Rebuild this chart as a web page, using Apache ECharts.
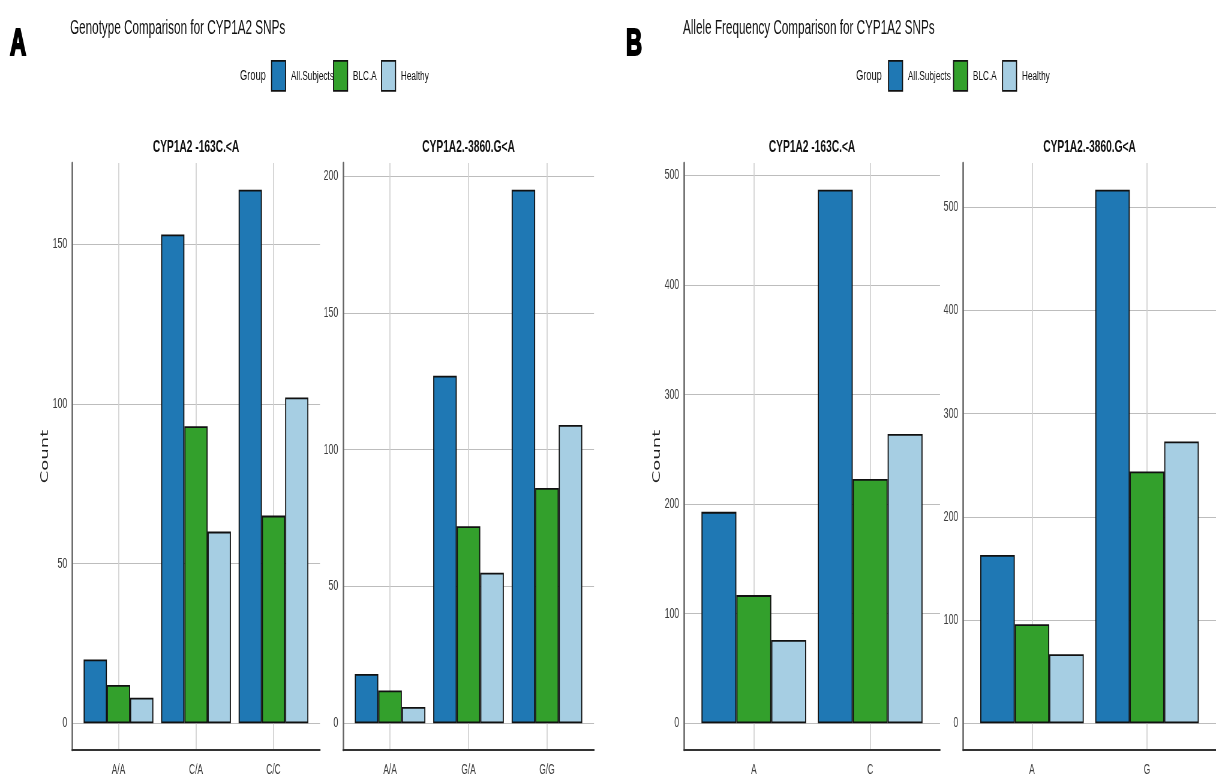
<!DOCTYPE html>
<html>
<head>
<meta charset="utf-8">
<script src="https://cdn.jsdelivr.net/npm/echarts@6/dist/echarts.min.js"></script>
<style>
html,body{margin:0;padding:0;background:#fff;overflow:hidden;width:1216px;height:777px;}
#chart{width:2027px;height:777px;transform:scaleX(0.59990);transform-origin:0 0;}
</style>
</head>
<body>
<div id="chart"></div>
<script>
// ---- data ----
const groups = ['All.Subjects', 'BLC.A', 'Healthy'];
const groupColors = ['#1f78b4', '#33a02c', '#a6cee3'];

const geno163Cats = ['A/A', 'C/A', 'C/C'];
const geno163All = [20, 153, 167];
const geno163BLCA = [12, 93, 65];
const geno163Healthy = [8, 60, 102];
const geno163Ticks = [0, 50, 100, 150];

const geno3860Cats = ['A/A', 'G/A', 'G/G'];
const geno3860All = [18, 127, 195];
const geno3860BLCA = [12, 72, 86];
const geno3860Healthy = [6, 55, 109];
const geno3860Ticks = [0, 50, 100, 150, 200];

const allele163Cats = ['A', 'C'];
const allele163All = [193, 487];
const allele163BLCA = [117, 223];
const allele163Healthy = [76, 264];
const allele163Ticks = [0, 100, 200, 300, 400, 500];

const allele3860Cats = ['A', 'G'];
const allele3860All = [163, 517];
const allele3860BLCA = [96, 244];
const allele3860Healthy = [67, 273];
const allele3860Ticks = [0, 100, 200, 300, 400, 500];

// ---- layout (the reference is horizontally condensed; the chart is drawn wider and squeezed) ----
const S = 1216 / 2027;
const fx = x => x / S;
const sans = '"Liberation Sans", Arial, sans-serif';

const panels = [
  {left: 72, right: 320, cats: geno163Cats, series: [geno163All, geno163BLCA, geno163Healthy], ticks: geno163Ticks, title: 'CYP1A2 -163C.<A', yname: 'Count'},
  {left: 343, right: 594, cats: geno3860Cats, series: [geno3860All, geno3860BLCA, geno3860Healthy], ticks: geno3860Ticks, title: 'CYP1A2.-3860.G<A', yname: ''},
  {left: 684, right: 940, cats: allele163Cats, series: [allele163All, allele163BLCA, allele163Healthy], ticks: allele163Ticks, title: 'CYP1A2 -163C.<A', yname: 'Count'},
  {left: 963, right: 1216, cats: allele3860Cats, series: [allele3860All, allele3860BLCA, allele3860Healthy], ticks: allele3860Ticks, title: 'CYP1A2.-3860.G<A', yname: ''}
];
const TOP = 163, HEIGHT = 587;

const grids = [], xAxes = [], yAxes = [], series = [];
const letterStyle = {fontFamily: sans, fontWeight: 900, fontSize: 37, color: '#000', textBorderColor: '#000', textBorderWidth: 2.2};
const mainStyle = {fontFamily: sans, fontWeight: 'normal', fontSize: 19.5, color: '#111'};
const groupStyle = {fontFamily: sans, fontWeight: 'normal', fontSize: 15.5, color: '#111'};
const titles = [
  {text: 'A', left: fx(10), top: 26, padding: 0, textStyle: letterStyle},
  {text: 'Genotype Comparison for CYP1A2 SNPs', left: fx(70), top: 19, padding: 0, textStyle: mainStyle},
  {text: 'Group', left: fx(240), top: 68, padding: 0, textStyle: groupStyle},
  {text: 'B', left: fx(626), top: 26, padding: 0, textStyle: letterStyle},
  {text: 'Allele Frequency Comparison for CYP1A2 SNPs', left: fx(683), top: 19, padding: 0, textStyle: mainStyle},
  {text: 'Group', left: fx(856), top: 68, padding: 0, textStyle: groupStyle}
];

panels.forEach((p, i) => {
  const gl = fx(p.left), gw = fx(p.right) - fx(p.left);
  grids.push({left: gl, top: TOP, width: gw, height: HEIGHT, containLabel: false});
  titles.push({text: p.title, left: gl + gw / 2, top: 139, padding: 0, textAlign: 'center',
    textStyle: {fontFamily: sans, fontWeight: 'bold', fontSize: 17, color: '#111'}});
  const n = p.cats.length;
  const pos = p.cats.map((c, k) => k + 1);
  xAxes.push({
    type: 'value', gridIndex: i, min: 0.4, max: n + 0.6,
    axisLine: {show: true, onZero: false, lineStyle: {color: '#333', width: 2}},
    axisTick: {show: false, customValues: pos},
    axisLabel: {customValues: pos, formatter: v => p.cats[Math.round(v) - 1] || '', color: '#3d3d3d',
      fontFamily: sans, fontSize: 14, margin: 13},
    splitLine: {show: true, lineStyle: {color: '#d0d0d0', width: 1.7}}
  });
  const maxV = Math.max(...p.series.flat());
  const pad = maxV * 0.05;
  yAxes.push({
    type: 'value', gridIndex: i, min: -pad, max: maxV + pad,
    name: p.yname, nameLocation: 'middle', nameGap: 23, nameRotate: 90,
    nameTextStyle: {fontFamily: '"DejaVu Sans", sans-serif', fontSize: 18, color: '#222'},
    axisLine: {show: true, onZero: false, lineStyle: {color: '#666', width: 2.6}},
    axisTick: {show: false, customValues: p.ticks},
    axisLabel: {customValues: p.ticks, color: '#3d3d3d', fontFamily: sans, fontSize: 14.5, margin: 8},
    splitLine: {show: true, lineStyle: {color: '#bdbdbd', width: 1.2}}
  });
  p.series.forEach((vals, g) => {
    series.push({
      type: 'bar', name: groups[g], xAxisIndex: i, yAxisIndex: i,
      data: vals.map((v, k) => [k + 1, v]),
      barGap: '0%', barCategoryGap: '10%',
      itemStyle: {color: groupColors[g], borderColor: '#111', borderWidth: 1.8},
      emphasis: {disabled: true}
    });
  });
});

// one legend entry per swatch, placed like the reference
const legendLefts = [[271, 333, 381], [888, 953, 1002]];
const legends = [];
legendLefts.forEach(row => row.forEach((lx, g) => {
  legends.push({
    orient: 'horizontal', icon: 'rect', itemWidth: fx(14), itemHeight: 30, itemGap: 0, padding: 0,
    left: fx(lx), top: 60, data: [groups[g]], selectedMode: false,
    textStyle: {fontFamily: sans, fontSize: 13.7, color: '#111', padding: [0, 0, 0, 4]},
    itemStyle: {borderColor: '#111', borderWidth: 1.8}
  });
}));

const option = {
  animation: false,
  backgroundColor: '#fff',
  title: titles,
  legend: legends,
  grid: grids,
  xAxis: xAxes,
  yAxis: yAxes,
  series: series
};

const chart = echarts.init(document.getElementById('chart'), null, {renderer: 'canvas'});
chart.setOption(option);
</script>
</body>
</html>
